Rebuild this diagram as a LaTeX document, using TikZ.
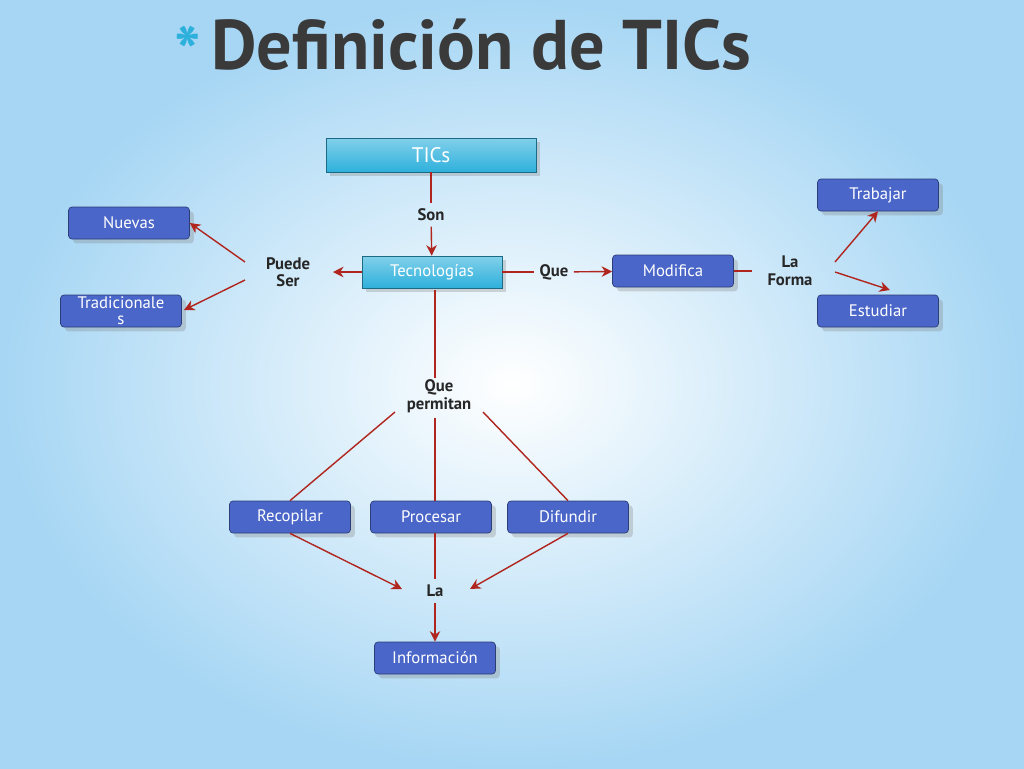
\documentclass[tikz,border=0pt]{standalone}
\usepackage{fontspec}
\setmainfont{PT Sans}
\usetikzlibrary{arrows.meta,shadows}
\definecolor{bluebox}{HTML}{4A66C8}
\definecolor{cyanbox}{HTML}{2EB0DC}
\definecolor{arrowred}{HTML}{B0261E}
\definecolor{titlegray}{HTML}{3A3A3A}
\definecolor{skyedge}{HTML}{A6D6F4}
\tikzset{
  box/.style={draw=bluebox!60!black, fill=bluebox, text=white, minimum width=2.42cm,
    minimum height=0.64cm, rounded corners=2pt, font=\fontsize{9.5}{11}\selectfont,
    inner sep=1pt, drop shadow={opacity=.3}},
  topbox/.style={box, draw=cyanbox!60!black, top color=cyanbox!60, bottom color=cyanbox,
    rounded corners=0pt},
  lbl/.style={font=\fontsize{9.5}{10}\selectfont\bfseries, text=black!85, align=center, inner sep=3pt},
  link/.style={arrowred, thick},
  arr/.style={link, -{Stealth[length=6pt,width=6pt]}}
}
\begin{document}
\begin{tikzpicture}[x=0.02cm,y=-0.02cm]
  % Background
  \useasboundingbox (0,0) rectangle (1024,768);
  \shade[inner color=white, outer color=skyedge] (0,0) rectangle (1024,768);
  % Title
  \node[text=cyanbox, font=\fontsize{40}{40}\selectfont\bfseries] (star) at (188,52) {*};
  \node[text=titlegray, font=\fontsize{40}{40}\selectfont\bfseries, anchor=west] (title) at (205,45) {Definición de TICs};

  % Boxes
  \node[topbox, minimum width=4.2cm, minimum height=0.68cm, font=\fontsize{12}{14}\selectfont] (tics) at (431,155) {TICs};
  \node[topbox, minimum width=2.8cm] (tecno) at (432,272) {Tecnologías};
  \node[box] (modifica) at (673,271) {Modifica};
  \node[box] (trabajar) at (878,195) {Trabajar};
  \node[box] (estudiar) at (878,311) {Estudiar};
  \node[box] (nuevas) at (129,223) {Nuevas};
  \node[box, align=center, font=\fontsize{9.5}{10}\selectfont] (tradic) at (121,311) {Tradicionale\\[-1pt]s};
  \node[box] (recopilar) at (290,517) {Recopilar};
  \node[box] (procesar) at (431,517) {Procesar};
  \node[box] (difundir) at (568,517) {Difundir};
  \node[box] (info) at (435,658) {Información};

  % Labels
  \node[lbl] (son) at (431,215) {Son};
  \node[lbl] (puede) at (288,272) {Puede\\Ser};
  \node[lbl] (que) at (554,272) {Que};
  \node[lbl] (forma) at (790,271) {La\\Forma};
  \node[lbl] (permitan) at (439,396) {Que\\permitan};
  \node[lbl] (la) at (435,591) {La};
  \coordinate (tecnoS) at (435,290);

  % Connectors
  \draw[link] (tics) -- (son);
  \draw[arr] (son) -- (tecno);
  \draw[arr] (tecno) -- (333,272);
  \draw[arr] (245,262) -- (nuevas.east);
  \draw[arr] (245,280) -- (184,310);
  \draw[link] (tecno) -- (que);
  \draw[arr] (que) -- (modifica);
  \draw[link] (modifica) -- (752,271);
  \draw[arr] (835,262) -- (trabajar.south);
  \draw[arr] (835,272) -- (890,290);
  \draw[link] (tecnoS) -- (435,378);
  \draw[link] (395,412) -- (recopilar.north);
  \draw[link] (435,418) -- (435,501);
  \draw[link] (483,412) -- (difundir.north);
  \draw[arr] (recopilar.south) -- (402,589);
  \draw[link] (435,533) -- (la);
  \draw[arr] (difundir.south) -- (470,589);
  \draw[arr] (la) -- (info);
\end{tikzpicture}
\end{document}
